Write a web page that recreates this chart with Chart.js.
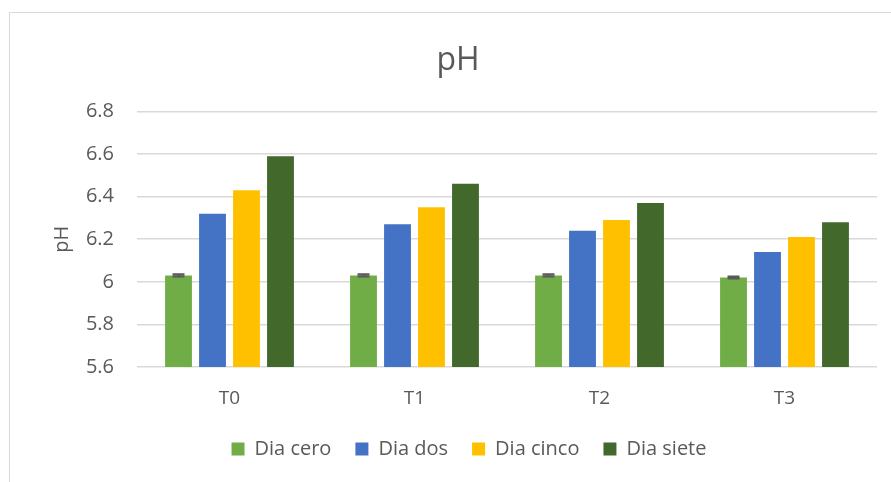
<!DOCTYPE html>
<html>
<head>
<meta charset="utf-8">
<script src="https://cdn.jsdelivr.net/npm/chart.js@4/dist/chart.umd.min.js"></script>
<style>
  html, body { margin: 0; padding: 0; background: #ffffff; overflow: hidden; }
  body { width: 891px; height: 482px; position: relative; }
  #frame {
    position: absolute; left: 9px; top: 12px; width: 900px; height: 470px;
    border-left: 1.5px solid #d9d9d9; border-top: 1.5px solid #d9d9d9;
    box-sizing: border-box;
  }
  #chart { position: absolute; left: 0; top: 0; }
</style>
</head>
<body>
<div id="frame"><canvas id="chart" width="900" height="470"></canvas></div>
<script>
// Treatments on the category axis
const categories = ['T0', 'T1', 'T2', 'T3'];

// pH per sampling day
const diaCero  = [6.03, 6.03, 6.03, 6.02];
const diaDos   = [6.32, 6.27, 6.24, 6.14];
const diaCinco = [6.43, 6.35, 6.29, 6.21];
const diaSiete = [6.59, 6.46, 6.37, 6.28];

// Error (±) shown on the day-zero bars
const diaCeroError = [0.005, 0.005, 0.005, 0.005];

const seriesNames = ['Dia cero', 'Dia dos', 'Dia cinco', 'Dia siete'];
const seriesColors = ['#70ad47', '#4472c4', '#ffc000', '#43682b'];

const FONT = "'Open Sans', 'DejaVu Sans', sans-serif";
const TEXT = '#595959';

// Draws the error bars for datasets that carry an "errors" array
const errorBarPlugin = {
  id: 'errorBars',
  afterDatasetsDraw(chart) {
    const ctx = chart.ctx;
    const y = chart.scales.y;
    chart.data.datasets.forEach((ds, di) => {
      if (!ds.errors) return;
      const meta = chart.getDatasetMeta(di);
      meta.data.forEach((bar, i) => {
        const v = ds.data[i], e = ds.errors[i];
        const yTop = y.getPixelForValue(v + e);
        const yBot = y.getPixelForValue(v - e);
        const half = 6;
        ctx.save();
        ctx.strokeStyle = '#595959';
        ctx.lineWidth = 2;
        ctx.beginPath();
        ctx.moveTo(bar.x, yTop); ctx.lineTo(bar.x, yBot);
        ctx.moveTo(bar.x - half, yTop); ctx.lineTo(bar.x + half, yTop);
        ctx.moveTo(bar.x - half, yBot); ctx.lineTo(bar.x + half, yBot);
        ctx.stroke();
        ctx.restore();
      });
    });
  }
};

// Nudges the legend row to the right so it sits under the plot's centre
const legendShift = {
  id: 'legendShift',
  afterLayout(chart) {
    const dx = 11;
    chart.legend.left += dx;
    chart.legend.right += dx;
  }
};

const seriesValues = [diaCero, diaDos, diaCinco, diaSiete];
const datasets = seriesValues.map((vals, k) => ({
  label: seriesNames[k],
  data: vals,
  backgroundColor: seriesColors[k],
  borderWidth: 0,
  categoryPercentage: 0.735,
  barPercentage: 0.79,
  errors: k === 0 ? diaCeroError : undefined
}));

new Chart(document.getElementById('chart'), {
  type: 'bar',
  data: { labels: categories, datasets },
  plugins: [errorBarPlugin, legendShift],
  options: {
    responsive: false,
    animation: false,
    devicePixelRatio: 1,
    layout: { padding: { left: 29, right: 33, top: 0, bottom: 14 } },
    plugins: {
      title: {
        display: true,
        text: 'pH',
        color: TEXT,
        font: { family: FONT, size: 32, weight: 'normal' },
        padding: { top: 29, bottom: 31 }
      },
      legend: {
        position: 'bottom',
        labels: {
          color: TEXT,
          font: { family: FONT, size: 20 },
          boxWidth: 13,
          boxHeight: 13,
          padding: 24
        }
      },
      tooltip: { enabled: false }
    },
    scales: {
      x: {
        grid: { display: false },
        border: { display: false },
        ticks: { color: TEXT, font: { family: FONT, size: 19 }, padding: 12 },
        afterFit(scale) { scale.height = 48; }
      },
      y: {
        min: 5.6,
        max: 6.8,
        grid: { color: '#d9d9d9', lineWidth: 1.5, drawTicks: false },
        border: { display: false },
        ticks: {
          stepSize: 0.2,
          color: TEXT,
          font: { family: FONT, size: 20 },
          padding: 23,
          callback: (v) => Number(v.toFixed(1)).toString()
        },
        title: {
          display: true,
          text: 'pH',
          color: TEXT,
          font: { family: FONT, size: 20 },
          padding: { top: 11, bottom: 0 }
        },
        afterFit(scale) { scale.width = 98; }
      }
    }
  }
});
</script>
</body>
</html>
